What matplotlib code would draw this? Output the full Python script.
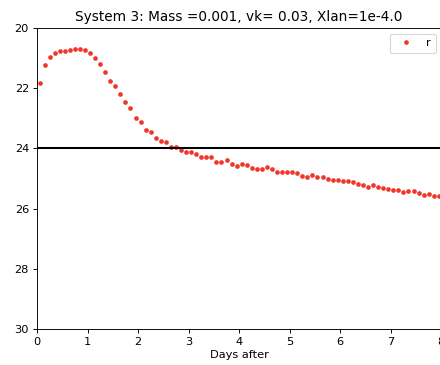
import matplotlib
matplotlib.use("Agg")
import matplotlib.pyplot as plt

# Tiempos (dias) y magnitudes
days = [0.05, 0.15, 0.25, 0.35, 0.45, 0.55, 0.65, 0.75, 0.85, 0.95,
        1.05, 1.15, 1.25, 1.35, 1.45, 1.55, 1.65, 1.75, 1.85, 1.95,
        2.05, 2.15, 2.25, 2.35, 2.45, 2.55, 2.65, 2.75, 2.85, 2.95,
        3.05, 3.15, 3.25, 3.35, 3.45, 3.55, 3.65, 3.75, 3.85, 3.95,
        4.05, 4.15, 4.25, 4.35, 4.45, 4.55, 4.65, 4.75, 4.85, 4.95,
        5.05, 5.15, 5.25, 5.35, 5.45, 5.55, 5.65, 5.75, 5.85, 5.95,
        6.05, 6.15, 6.25, 6.35, 6.45, 6.55, 6.65, 6.75, 6.85, 6.95,
        7.05, 7.15, 7.25, 7.35, 7.45, 7.55, 7.65, 7.75, 7.85, 7.95]

mag_r = [21.83, 21.23, 20.96, 20.83, 20.77, 20.75, 20.72, 20.69, 20.69, 20.74,
         20.83, 21.00, 21.18, 21.46, 21.75, 21.94, 22.18, 22.46, 22.67, 22.98,
         23.13, 23.38, 23.47, 23.64, 23.75, 23.80, 23.95, 23.95, 24.05, 24.13,
         24.13, 24.20, 24.30, 24.27, 24.27, 24.45, 24.45, 24.38, 24.51, 24.57,
         24.52, 24.55, 24.64, 24.70, 24.69, 24.62, 24.70, 24.80, 24.78, 24.78,
         24.78, 24.83, 24.91, 24.94, 24.87, 24.94, 24.95, 25.03, 25.06, 25.06,
         25.08, 25.09, 25.12, 25.18, 25.22, 25.29, 25.23, 25.27, 25.32, 25.35,
         25.38, 25.39, 25.45, 25.43, 25.42, 25.49, 25.55, 25.51, 25.58, 25.59]

limit_mag = 24.0

dpi = 82
fig = plt.figure(figsize=(440 / dpi, 365 / dpi), dpi=dpi)
ax = fig.add_axes([37 / 440, 36 / 365, (441.3 - 37) / 440, (329 - 28) / 365])

ax.plot(days, mag_r, 'o', color='#f03528', ms=3.5, mew=0.5, label='r')
ax.axhline(limit_mag, color='k', lw=1.8)

ax.set_xlim(0, 8)
ax.set_ylim(30, 20)
ax.set_xticks(range(0, 9))
ax.set_yticks([20, 22, 24, 26, 28, 30])
ax.set_xlabel('Days after', labelpad=2.5)
ax.set_title('System 3: Mass =0.001, vk= 0.03, Xlan=1e-4.0')
ax.legend(loc='upper right')

fig.savefig('out.png', dpi=dpi)
